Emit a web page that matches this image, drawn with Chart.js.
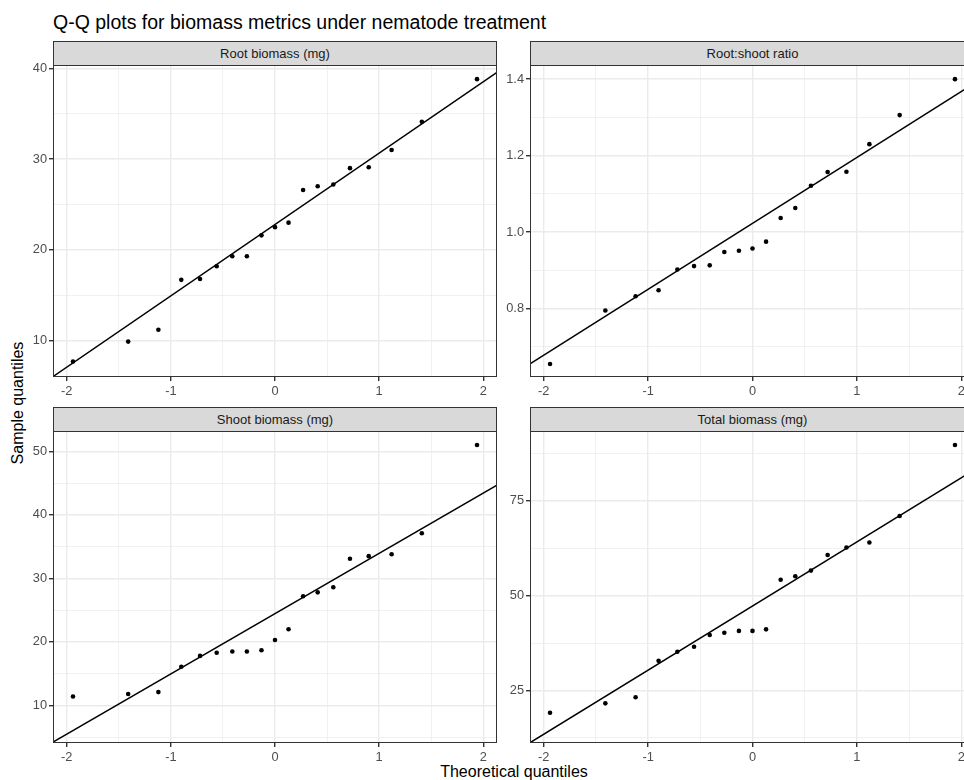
<!DOCTYPE html>
<html>
<head>
<meta charset="utf-8">
<title>Q-Q plots</title>
<script src="https://cdn.jsdelivr.net/npm/chart.js@4.4.1/dist/chart.umd.min.js"></script>
<style>
  body { margin: 0; background: #fff; font-family: 'Liberation Sans', Arial, sans-serif; }
  #wrap { position: relative; width: 964px; height: 780px; overflow: hidden; }
  canvas { position: absolute; }
  .title { position: absolute; left: 53px; top: 11px; font-size: 19.5px; color: #000; white-space: nowrap; }
  .strip { position: absolute; box-sizing: border-box; background: #d9d9d9; border: 1px solid #333;
           color: #1a1a1a; font-size: 13px; text-align: center; line-height: 23px; white-space: nowrap; }
  .axtitle { position: absolute; font-size: 16px; color: #000; white-space: nowrap; }
</style>
</head>
<body>
<div id="wrap">
  <div class="title">Q-Q plots for biomass metrics under nematode treatment</div>
  <div class="axtitle" id="ytitle">Sample quantiles</div>
  <div class="axtitle" id="xtitle">Theoretical quantiles</div>
</div>
<script>
// theoretical normal quantiles (n = 19)
const theoQ = [-1.94, -1.41, -1.12, -0.90, -0.72, -0.56, -0.41, -0.27, -0.13, 0, 0.13, 0.27, 0.41, 0.56, 0.72, 0.90, 1.12, 1.41, 1.94];

// sorted sample values per metric
const rootBiomass = [7.7, 9.9, 11.2, 16.7, 16.8, 18.2, 19.3, 19.3, 21.6, 22.5, 23.0, 26.6, 27.0, 27.2, 29.0, 29.1, 31.0, 34.1, 38.8];
const rootShootRatio = [0.655, 0.795, 0.832, 0.848, 0.902, 0.911, 0.913, 0.948, 0.951, 0.957, 0.975, 1.037, 1.063, 1.121, 1.157, 1.158, 1.230, 1.306, 1.400];
const shootBiomass = [11.4, 11.8, 12.1, 16.1, 17.8, 18.3, 18.5, 18.5, 18.7, 20.3, 22.0, 27.2, 27.8, 28.6, 33.1, 33.5, 33.8, 37.1, 51.0];
const totalBiomass = [19.1, 21.6, 23.2, 32.8, 35.2, 36.5, 39.6, 40.2, 40.7, 40.7, 41.1, 54.2, 55.1, 56.6, 60.7, 62.7, 64.0, 71.0, 89.7];

// tick labels
const xTicks = [-2, -1, 0, 1, 2];
const xMinor = [-1.5, -0.5, 0.5, 1.5];
const rootTicks = [10, 20, 30, 40];
const rootMinor = [15, 25, 35];
const ratioTicks = [0.8, 1.0, 1.2, 1.4];
const ratioMinor = [0.7, 0.9, 1.1, 1.3];
const shootTicks = [10, 20, 30, 40, 50];
const shootMinor = [5, 15, 25, 35, 45];
const totalTicks = [25, 50, 75];
const totalMinor = [12.5, 37.5, 62.5, 87.5];

// axis limits as seen in the picture
const xRange = [-2.132, 2.132];
const rootRange = [6.0, 40.36];
const ratioRange = [0.621, 1.437];
const shootRange = [4.09, 53.2];
const totalRange = [11.14, 93.4];

const FONT = "'Liberation Sans', Arial, sans-serif";
const Y_W = 50, PAD_T = 10, PAD_R = 4, X_H = 24;

// the right-hand column runs past the 964px edge and gets cropped
const panels = [
  { label: 'Root biomass (mg)', values: rootBiomass, ticks: rootTicks, minor: rootMinor, range: rootRange, dec: 0, box: [53, 65, 497, 377] },
  { label: 'Root:shoot ratio', values: rootShootRatio, ticks: ratioTicks, minor: ratioMinor, range: ratioRange, dec: 1, box: [530, 65, 975, 377] },
  { label: 'Shoot biomass (mg)', values: shootBiomass, ticks: shootTicks, minor: shootMinor, range: shootRange, dec: 0, box: [53, 431, 497, 743] },
  { label: 'Total biomass (mg)', values: totalBiomass, ticks: totalTicks, minor: totalMinor, range: totalRange, dec: 0, box: [530, 431, 975, 743] }
];

// quantile type 7, like R's default
function quantile(sorted, p) {
  const h = (sorted.length - 1) * p;
  const lo = Math.floor(h);
  return sorted[lo] + (h - lo) * (sorted[Math.min(lo + 1, sorted.length - 1)] - sorted[lo]);
}

// reference line through the quartiles (what stat_qq_line does)
function qqLine(values) {
  const s = values.slice().sort((a, b) => a - b);
  const q1 = quantile(s, 0.25), q3 = quantile(s, 0.75);
  const z = 0.6744898;
  const slope = (q3 - q1) / (2 * z);
  const icpt = (q1 + q3) / 2;
  return xRange.map(x => ({ x: x, y: icpt + slope * x }));
}

const isIn = (arr, v) => arr.some(a => Math.abs(a - v) < 1e-9);

const panelBorder = {
  id: 'panelBorder',
  afterDraw(chart) {
    const a = chart.chartArea, ctx = chart.ctx;
    ctx.save();
    ctx.strokeStyle = '#333333';
    ctx.lineWidth = 1;
    ctx.strokeRect(a.left + 0.5, a.top + 0.5, a.right - a.left - 1, a.bottom - a.top - 1);
    ctx.restore();
  }
};

const wrap = document.getElementById('wrap');

panels.forEach(p => {
  const [L, T, R, B] = p.box;

  const strip = document.createElement('div');
  strip.className = 'strip';
  strip.style.left = L + 'px';
  strip.style.top = (T - 24) + 'px';
  strip.style.width = (R - L) + 'px';
  strip.style.height = '25px';
  strip.textContent = p.label;
  wrap.appendChild(strip);

  const cv = document.createElement('canvas');
  const w = (R - L) + Y_W + PAD_R, h = (B - T) + PAD_T + X_H;
  cv.width = w; cv.height = h;
  cv.style.width = w + 'px'; cv.style.height = h + 'px';
  cv.style.left = (L - Y_W) + 'px';
  cv.style.top = (T - PAD_T) + 'px';
  wrap.appendChild(cv);

  const yAll = p.minor.concat(p.ticks).filter(v => v >= p.range[0] && v <= p.range[1]).sort((a, b) => a - b);
  const xAll = xMinor.concat(xTicks).sort((a, b) => a - b);

  new Chart(cv, {
    type: 'scatter',
    data: {
      datasets: [
        {
          data: qqLine(p.values),
          showLine: true,
          borderColor: '#000',
          borderWidth: 1.5,
          pointRadius: 0,
          order: 0
        },
        {
          data: p.values.map((v, i) => ({ x: theoQ[i], y: v })),
          backgroundColor: '#000',
          borderColor: '#000',
          pointRadius: 2.3,
          borderWidth: 0,
          order: 1
        }
      ]
    },
    options: {
      responsive: false,
      animation: false,
      events: [],
      layout: { padding: { top: PAD_T, right: PAD_R, left: 0, bottom: 0 } },
      plugins: { legend: { display: false }, tooltip: { enabled: false } },
      scales: {
        x: {
          type: 'linear',
          min: xRange[0], max: xRange[1],
          afterBuildTicks: s => { s.ticks = xAll.map(v => ({ value: v })); },
          afterFit: s => { s.height = X_H; s.paddingLeft = 0; s.paddingRight = 0; },
          border: { display: false },
          grid: {
            color: '#ebebeb',
            lineWidth: c => isIn(xTicks, c.tick.value) ? 1.4 : 0.7,
            tickColor: c => isIn(xTicks, c.tick.value) ? '#333333' : 'rgba(0,0,0,0)',
            tickLength: 4
          },
          ticks: {
            autoSkip: false, maxRotation: 0, padding: 3,
            color: '#4d4d4d', font: { size: 12.8, family: FONT },
            callback: v => isIn(xTicks, v) ? String(v) : ''
          }
        },
        y: {
          type: 'linear',
          min: p.range[0], max: p.range[1],
          afterBuildTicks: s => { s.ticks = yAll.map(v => ({ value: v })); },
          afterFit: s => { s.width = Y_W; s.paddingTop = 0; s.paddingBottom = 0; },
          border: { display: false },
          grid: {
            color: '#ebebeb',
            lineWidth: c => isIn(p.ticks, c.tick.value) ? 1.4 : 0.7,
            tickColor: c => isIn(p.ticks, c.tick.value) ? '#333333' : 'rgba(0,0,0,0)',
            tickLength: 4
          },
          ticks: {
            autoSkip: false, padding: 2,
            color: '#4d4d4d', font: { size: 12.8, family: FONT },
            callback: v => isIn(p.ticks, v) ? v.toFixed(p.dec) : ''
          }
        }
      }
    },
    plugins: [panelBorder]
  });
});

// axis titles
const yt = document.getElementById('ytitle');
yt.style.left = '18px';
yt.style.top = '403px';
yt.style.transform = 'translate(-50%, -50%) rotate(-90deg)';
const xt = document.getElementById('xtitle');
xt.style.left = '514px';
xt.style.top = '772px';
xt.style.transform = 'translate(-50%, -50%)';
</script>
</body>
</html>
